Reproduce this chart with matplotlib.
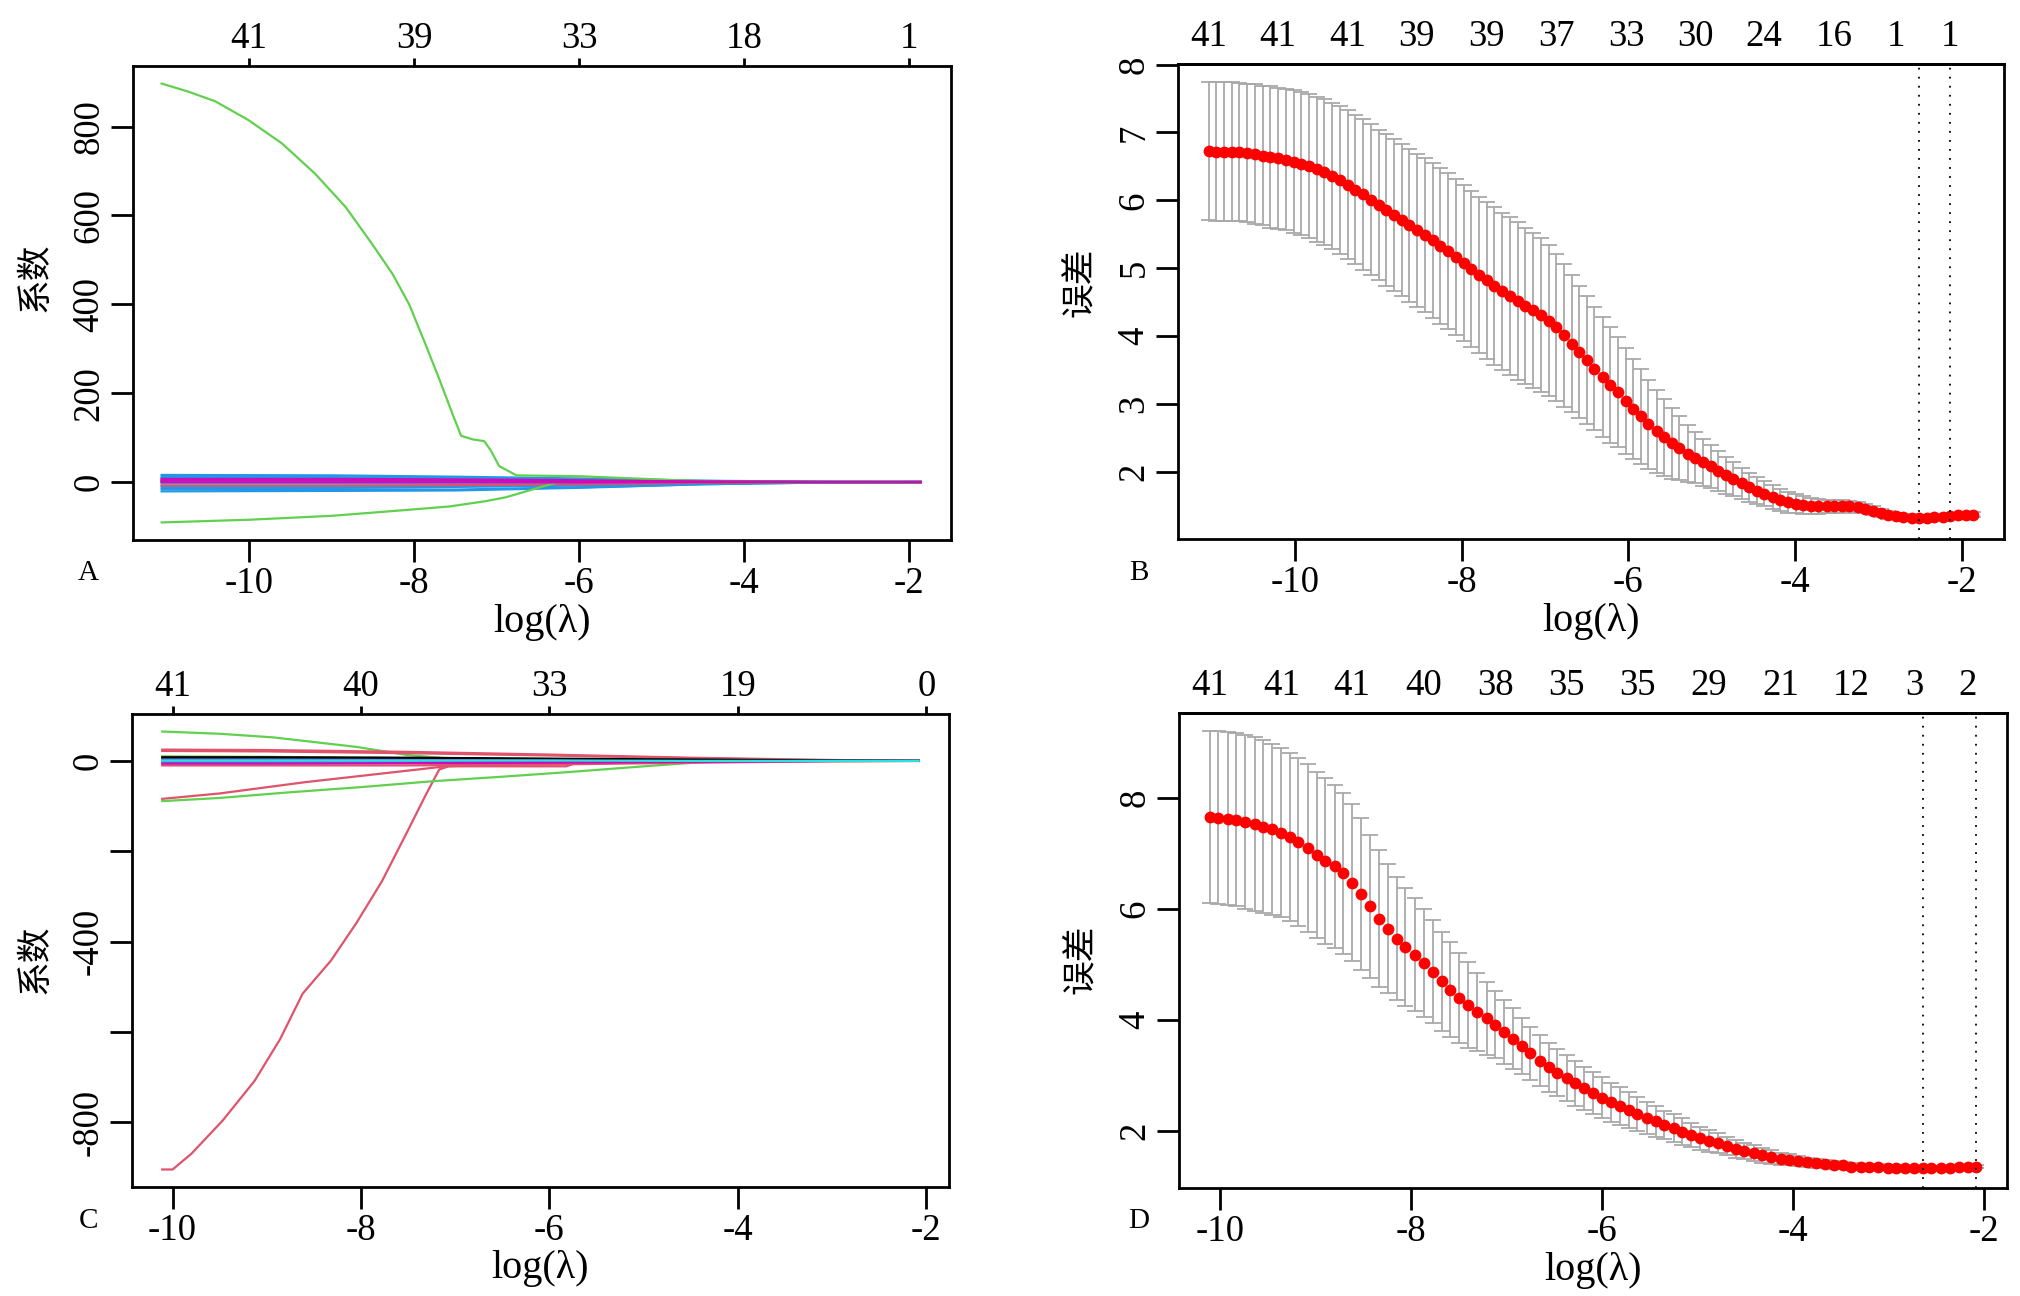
import matplotlib
matplotlib.use("Agg")
import matplotlib.pyplot as plt
import numpy as np

plt.rcParams['font.family'] = ['Liberation Serif', 'Noto Sans CJK SC']
plt.rcParams['axes.unicode_minus'] = False

# R default palette (glmnet draws its paths with col = 1:6)
R_BLACK, R_RED, R_GREEN, R_BLUE, R_CYAN, R_MAGENTA = '#000000', '#DF536B', '#61D04F', '#2297E6', '#28E2E5', '#CD0BBC'

# ---------------- A: coefficient paths, model 1 ----------------
a_df = [41, 39, 33, 18, 1]
a_big_x = [-11.06, -10.74, -10.41, -10.01, -9.60, -9.20, -8.83, -8.51, -8.26, -8.06, -7.86, -7.70, -7.53,
           -7.43, -7.29, -7.15, -7.07, -6.97, -6.76, -5.99, -5.6, -4.8, -4.0, -3.0, -1.86]
a_big_y = [897, 879, 857, 815, 762, 694, 619, 536, 468, 400, 309, 234, 151,
           104, 96, 92, 71, 36, 15, 13, 10, 4, 1, 0, 0]
a_neg_x = [-11.06, -10.01, -8.99, -8.10, -7.57, -7.13, -6.88, -6.68, -6.48, -6.28, -5.99, -5.0, -1.86]
a_neg_y = [-91, -85, -76, -63, -55, -43, -34, -23, -12, -2, 1, 0, 0]
a_small_x = [-11.06, -9.0, -7.5, -6.0, -4.5, -3.0, -1.86]
a_small_y = [
    [16, 15, 12, 8, 3, 0.5, 0],
    [12, 11, 9, 6, 2, 0, 0],
    [9, 8, 7, 4, 1, 0, 0],
    [-12, -12, -11, -8, -3, -0.5, 0],
    [-16, -16, -17, -12, -5, -1, 0],
    [-21, -20, -19, -13, -5, -1, 0],
    [-8, -8, -7, -5, -2, 0, 0],
    [-4, -4, -4, -3, -1, 0, 0],
    [6, 6, 5, 3, 1, 0, 0],
    [-8, -8, -7, -5, -2, 0, 0],
    [3, 3, 3, 2, 1, 0, 0],
    [1, 1, 1, 1, 0, 0, 0],
    [2, 2, 2, 1, 0, 0, 0],
]
a_small_col = [R_BLUE, R_BLUE, R_BLUE, R_BLUE, R_BLUE, R_BLUE, R_BLUE, R_CYAN, R_CYAN, R_RED, R_RED, R_BLACK, R_GREEN]
a_top_y = [[7, 7, 6, 4, 1, 0, 0], [3, 3, 3, 2, 1, 0, 0], [-1, -1, -1, -1, 0, 0, 0]]

# ---------------- C: coefficient paths, model 2 ----------------
c_df = [41, 40, 33, 19, 0]
c_big_x = [-10.11, -10.0, -9.80, -9.47, -9.13, -8.86, -8.62, -8.32, -8.05, -7.78, -7.51, -7.31, -7.17, -7.07, -6.5, -5.82, -5.7, -5.0, -4.0, -2.08]
c_big_y = [-904, -904, -869, -796, -708, -616, -515, -442, -359, -267, -157, -74, -19, -12, -12, -12, -3, -1, 0, 0]
c_red2_x = [-10.11, -9.5, -8.59, -7.78, -7.1, -6.5, -5.5, -4.5, -3.5, -2.08]
c_red2_y = [-84, -72, -47, -28, -12, -8, -4, -1, 0, 0]
c_grn1_x = [-10.11, -9.5, -8.93, -8.05, -7.51, -7.1, -6.0, -5.0, -4.0, -2.08]
c_grn1_y = [65, 60, 52, 31, 13, 6, 4, 2, 0, 0]
c_grn2_x = [-10.11, -9.5, -8.79, -8.0, -7.24, -6.5, -5.75, -5.0, -4.4, -4.0, -2.08]
c_grn2_y = [-89, -82, -70, -58, -45, -35, -24, -12, -3, -1, 0]
c_small_x = [-10.11, -9.0, -7.5, -6.0, -4.5, -3.0, -2.08]
c_small_y = [
    [25, 24, 20, 14, 7, 2, 0],
    [22, 21, 17, 12, 6, 1, 0],
    [-10, -10, -10, -8, -4, -1, 0],
    [10, 9, 6, 3, 1, 0, 0],
    [5, 5, 4, 3, 2, 0, 0],
    [-3, -3, -3, -2, -1, 0, 0],
    [2, 2, 2, 1, 1, 0, 0],
    [-6, -6, -5, -4, -2, 0, 0],
    [8, 8, 7, 5, 3, 1, 0],
]
c_small_col = [R_RED, R_RED, R_RED, R_GREEN, R_BLUE, R_BLUE, R_MAGENTA, R_MAGENTA, R_BLACK]
c_top_y = [1, 1, 1, 1, 0, 0, 0]

# ---------------- B: cross-validation, model 1 ----------------
b_loglam = [-11.04, -10.95, -10.85, -10.76, -10.67, -10.58, -10.48, -10.39, -10.30, -10.21,
            -10.11, -10.02, -9.93, -9.83, -9.74, -9.65, -9.56, -9.46, -9.37, -9.28,
            -9.19, -9.09, -9.00, -8.91, -8.82, -8.72, -8.63, -8.54, -8.44, -8.35,
            -8.26, -8.17, -8.07, -7.98, -7.89, -7.80, -7.70, -7.61, -7.52, -7.42,
            -7.33, -7.24, -7.15, -7.05, -6.96, -6.87, -6.78, -6.68, -6.59, -6.50,
            -6.41, -6.31, -6.22, -6.13, -6.03, -5.94, -5.85, -5.76, -5.66, -5.57,
            -5.48, -5.39, -5.29, -5.20, -5.11, -5.01, -4.92, -4.83, -4.74, -4.64,
            -4.55, -4.46, -4.37, -4.27, -4.18, -4.09, -3.99, -3.90, -3.81, -3.72,
            -3.62, -3.53, -3.44, -3.35, -3.25, -3.16, -3.07, -2.97, -2.88, -2.79,
            -2.70, -2.60, -2.51, -2.42, -2.33, -2.23, -2.14, -2.05, -1.95, -1.86]
b_cvm = [6.73, 6.72, 6.72, 6.72, 6.71, 6.70, 6.68, 6.66, 6.64, 6.62,
         6.60, 6.57, 6.54, 6.51, 6.46, 6.42, 6.36, 6.30, 6.23, 6.16,
         6.09, 6.01, 5.93, 5.86, 5.78, 5.71, 5.63, 5.56, 5.49, 5.41,
         5.33, 5.25, 5.17, 5.08, 4.99, 4.90, 4.82, 4.74, 4.66, 4.59,
         4.52, 4.45, 4.38, 4.31, 4.23, 4.13, 4.01, 3.89, 3.77, 3.65,
         3.52, 3.40, 3.28, 3.17, 3.05, 2.93, 2.82, 2.70, 2.60, 2.51,
         2.42, 2.35, 2.27, 2.21, 2.14, 2.08, 2.01, 1.95, 1.89, 1.83,
         1.77, 1.72, 1.68, 1.63, 1.59, 1.55, 1.53, 1.51, 1.50, 1.49,
         1.49, 1.49, 1.49, 1.49, 1.48, 1.46, 1.43, 1.40, 1.37, 1.35,
         1.33, 1.32, 1.32, 1.32, 1.33, 1.34, 1.35, 1.36, 1.37, 1.37]
b_cvsd = [1.02, 1.02, 1.02, 1.02, 1.02, 1.02, 1.03, 1.03, 1.04, 1.04,
          1.04, 1.05, 1.05, 1.06, 1.07, 1.08, 1.08, 1.09, 1.10, 1.10,
          1.11, 1.11, 1.11, 1.12, 1.12, 1.12, 1.13, 1.13, 1.14, 1.14,
          1.15, 1.15, 1.15, 1.15, 1.15, 1.15, 1.16, 1.16, 1.16, 1.16,
          1.16, 1.15, 1.14, 1.13, 1.11, 1.08, 1.05, 1.01, 0.97, 0.94,
          0.91, 0.88, 0.85, 0.81, 0.78, 0.74, 0.70, 0.66, 0.61, 0.57,
          0.52, 0.47, 0.42, 0.38, 0.35, 0.32, 0.29, 0.27, 0.25, 0.23,
          0.21, 0.20, 0.18, 0.17, 0.16, 0.15, 0.14, 0.13, 0.12, 0.11,
          0.10, 0.10, 0.09, 0.08, 0.08, 0.07, 0.07, 0.06, 0.06, 0.05,
          0.05, 0.05, 0.04, 0.04, 0.04, 0.04, 0.04, 0.04, 0.04, 0.04]
b_nz = [41, 41, 41, 39, 39, 37, 33, 30, 24, 16, 1, 1]
b_nz_at = [-11.04, -10.21, -9.37, -8.54, -7.70, -6.87, -6.03, -5.20, -4.37, -3.53, -2.79, -2.14]
b_lam_min, b_lam_1se = -2.51, -2.14

# ---------------- D: cross-validation, model 2 ----------------
d_loglam = [-10.11, -10.02, -9.92, -9.83, -9.74, -9.64, -9.55, -9.46, -9.36, -9.27,
            -9.18, -9.08, -8.99, -8.90, -8.80, -8.71, -8.62, -8.52, -8.43, -8.34,
            -8.24, -8.15, -8.06, -7.96, -7.87, -7.77, -7.68, -7.59, -7.50, -7.40,
            -7.31, -7.21, -7.12, -7.03, -6.93, -6.84, -6.75, -6.65, -6.56, -6.47,
            -6.37, -6.28, -6.19, -6.09, -6.00, -5.91, -5.81, -5.72, -5.63, -5.53,
            -5.44, -5.35, -5.25, -5.16, -5.07, -4.97, -4.88, -4.79, -4.69, -4.60,
            -4.51, -4.41, -4.32, -4.23, -4.13, -4.04, -3.95, -3.85, -3.76, -3.67,
            -3.57, -3.48, -3.39, -3.29, -3.20, -3.11, -3.01, -2.92, -2.83, -2.73,
            -2.64, -2.55, -2.45, -2.36, -2.26, -2.17, -2.08]
d_cvm = [7.67, 7.65, 7.63, 7.61, 7.57, 7.53, 7.49, 7.44, 7.38, 7.30,
         7.21, 7.10, 6.98, 6.87, 6.77, 6.65, 6.48, 6.28, 6.05, 5.83,
         5.65, 5.47, 5.32, 5.18, 5.03, 4.87, 4.70, 4.55, 4.40, 4.27,
         4.15, 4.03, 3.92, 3.79, 3.66, 3.53, 3.40, 3.27, 3.15, 3.05,
         2.96, 2.86, 2.77, 2.68, 2.60, 2.52, 2.45, 2.38, 2.31, 2.24,
         2.18, 2.11, 2.05, 1.99, 1.93, 1.87, 1.82, 1.78, 1.73, 1.68,
         1.64, 1.60, 1.56, 1.53, 1.50, 1.48, 1.46, 1.44, 1.42, 1.40,
         1.39, 1.38, 1.36, 1.36, 1.35, 1.35, 1.34, 1.34, 1.33, 1.33,
         1.33, 1.33, 1.34, 1.34, 1.35, 1.35, 1.36]
d_cvsd = [1.55, 1.56, 1.56, 1.56, 1.57, 1.57, 1.56, 1.54, 1.52, 1.51,
          1.51, 1.51, 1.50, 1.49, 1.47, 1.45, 1.42, 1.37, 1.29, 1.23,
          1.16, 1.11, 1.06, 1.02, 0.98, 0.93, 0.89, 0.85, 0.81, 0.77,
          0.70, 0.66, 0.61, 0.58, 0.55, 0.51, 0.48, 0.46, 0.44, 0.42,
          0.41, 0.40, 0.39, 0.38, 0.37, 0.35, 0.34, 0.32, 0.31, 0.29,
          0.28, 0.26, 0.25, 0.24, 0.22, 0.21, 0.20, 0.18, 0.17, 0.16,
          0.15, 0.14, 0.13, 0.12, 0.11, 0.10, 0.09, 0.08, 0.08, 0.07,
          0.07, 0.06, 0.06, 0.05, 0.05, 0.05, 0.04, 0.04, 0.04, 0.04,
          0.04, 0.03, 0.03, 0.03, 0.03, 0.03, 0.03]
d_nz = [41, 41, 41, 40, 38, 35, 35, 29, 21, 12, 3, 2]
d_nz_at = [-10.11, -9.36, -8.62, -7.87, -7.12, -6.37, -5.63, -4.88, -4.13, -3.39, -2.73, -2.17]
d_lam_min, d_lam_1se = -2.64, -2.08

xticks = [-10, -8, -6, -4, -2]

W, H = 2020, 1296
fig = plt.figure(figsize=(W / 100, H / 100), dpi=100)

TICK_FS = 26.5


def box(l, t, r, b):
    return [l / W, 1 - b / H, (r - l) / W, (b - t) / H]


def r_lim(lo, hi):
    # R's default 4% axis expansion
    d = 0.04 * (hi - lo)
    return lo - d, hi + d


def style(ax, yticks, ylabels, ylab, ylab_y, letter, lx, ly):
    for s in ax.spines.values():
        s.set_linewidth(2)
    ax.set_xticks(xticks)
    ax.set_xticklabels([str(t) for t in xticks])
    ax.set_yticks(yticks)
    ax.set_yticklabels(ylabels)
    ax.tick_params(length=16, width=2, labelsize=TICK_FS, pad=3, direction='out')
    plt.setp(ax.get_yticklabels(), rotation=90, va='center')
    ax.set_xlabel('log(λ)', fontsize=29, va='center')
    ax.xaxis.set_label_coords(0.5, -0.173)
    ax.set_ylabel(ylab, fontsize=25, va='center')
    ax.yaxis.set_label_coords(-0.118, ylab_y)
    fig.text(lx / W, 1 - ly / H, letter, fontsize=21, ha='center', va='center')


# ---- A ----
axA = fig.add_axes(box(133, 66, 951, 540))
for ys, c in zip(a_small_y, a_small_col):
    axA.plot(a_small_x, ys, color=c, lw=1.6)
axA.plot(a_big_x, a_big_y, color=R_GREEN, lw=1.6)
axA.plot(a_neg_x, a_neg_y, color=R_GREEN, lw=1.6)
for ys in a_top_y:
    axA.plot(a_small_x, ys, color=R_MAGENTA, lw=1.6)
axA.set_xlim(r_lim(-11.04, -1.86))
axA.set_ylim(r_lim(min(a_neg_y), max(a_big_y)))
style(axA, [0, 200, 400, 600, 800], ['0', '200', '400', '600', '800'], '系数', 0.554, 'A', 88, 573)
topA = axA.secondary_xaxis('top')
topA.set_xticks(xticks, labels=[str(v) for v in a_df])
topA.tick_params(length=6, width=2, labelsize=TICK_FS, pad=1)

# ---- C ----
axC = fig.add_axes(box(132, 714, 949, 1187))
axC.plot(c_big_x, c_big_y, color=R_RED, lw=1.6)
axC.plot(c_red2_x, c_red2_y, color=R_RED, lw=1.6)
axC.plot(c_grn1_x, c_grn1_y, color=R_GREEN, lw=1.6)
axC.plot(c_grn2_x, c_grn2_y, color=R_GREEN, lw=1.6)
for ys, c in zip(c_small_y, c_small_col):
    axC.plot(c_small_x, ys, color=c, lw=1.6)
axC.plot(c_small_x, c_top_y, color=R_CYAN, lw=1.6)
axC.set_xlim(r_lim(-10.11, -2.08))
axC.set_ylim(r_lim(min(c_big_y), max(c_grn1_y)))
style(axC, [0, -200, -400, -600, -800], ['0', '', '-400', '', '-800'], '系数', 0.481, 'C', 88, 1221)
topC = axC.secondary_xaxis('top')
topC.set_xticks(xticks, labels=[str(v) for v in c_df])
topC.tick_params(length=6, width=2, labelsize=TICK_FS, pad=1)


# ---- B and D ----
def cv_panel(ax, x, m, s, nz, nz_at, lmin, l1se):
    m = np.asarray(m)
    s = np.asarray(s)
    ax.errorbar(x, m, yerr=s, fmt='none', ecolor='darkgrey', elinewidth=1.3,
                capsize=5.5, capthick=1.3, zorder=2)
    ax.plot(x, m, 'o', color='red', ms=8.5, mec='none', zorder=3)
    for v in (lmin, l1se):
        ax.axvline(v, color='black', lw=1.3, ls=(0, (1, 4)), zorder=4)
    ax.set_xlim(r_lim(x[0], x[-1]))
    ax.set_ylim(r_lim((m - s).min(), (m + s).max()))
    top = ax.secondary_xaxis('top')
    top.set_xticks(nz_at, labels=[str(v) for v in nz])
    top.tick_params(length=0, labelsize=TICK_FS, pad=7)
    top.spines['top'].set_linewidth(2)


axB = fig.add_axes(box(1178, 64, 2004, 539))
cv_panel(axB, b_loglam, b_cvm, b_cvsd, b_nz, b_nz_at, b_lam_min, b_lam_1se)
style(axB, [2, 3, 4, 5, 6, 7, 8], ['2', '3', '4', '5', '6', '7', '8'], '误差', 0.541, 'B', 1139, 573)

axD = fig.add_axes(box(1179, 713, 2007, 1188))
cv_panel(axD, d_loglam, d_cvm, d_cvsd, d_nz, d_nz_at, d_lam_min, d_lam_1se)
style(axD, [2, 4, 6, 8], ['2', '4', '6', '8'], '误差', 0.481, 'D', 1139, 1221)

fig.savefig('out.png', dpi=100)
